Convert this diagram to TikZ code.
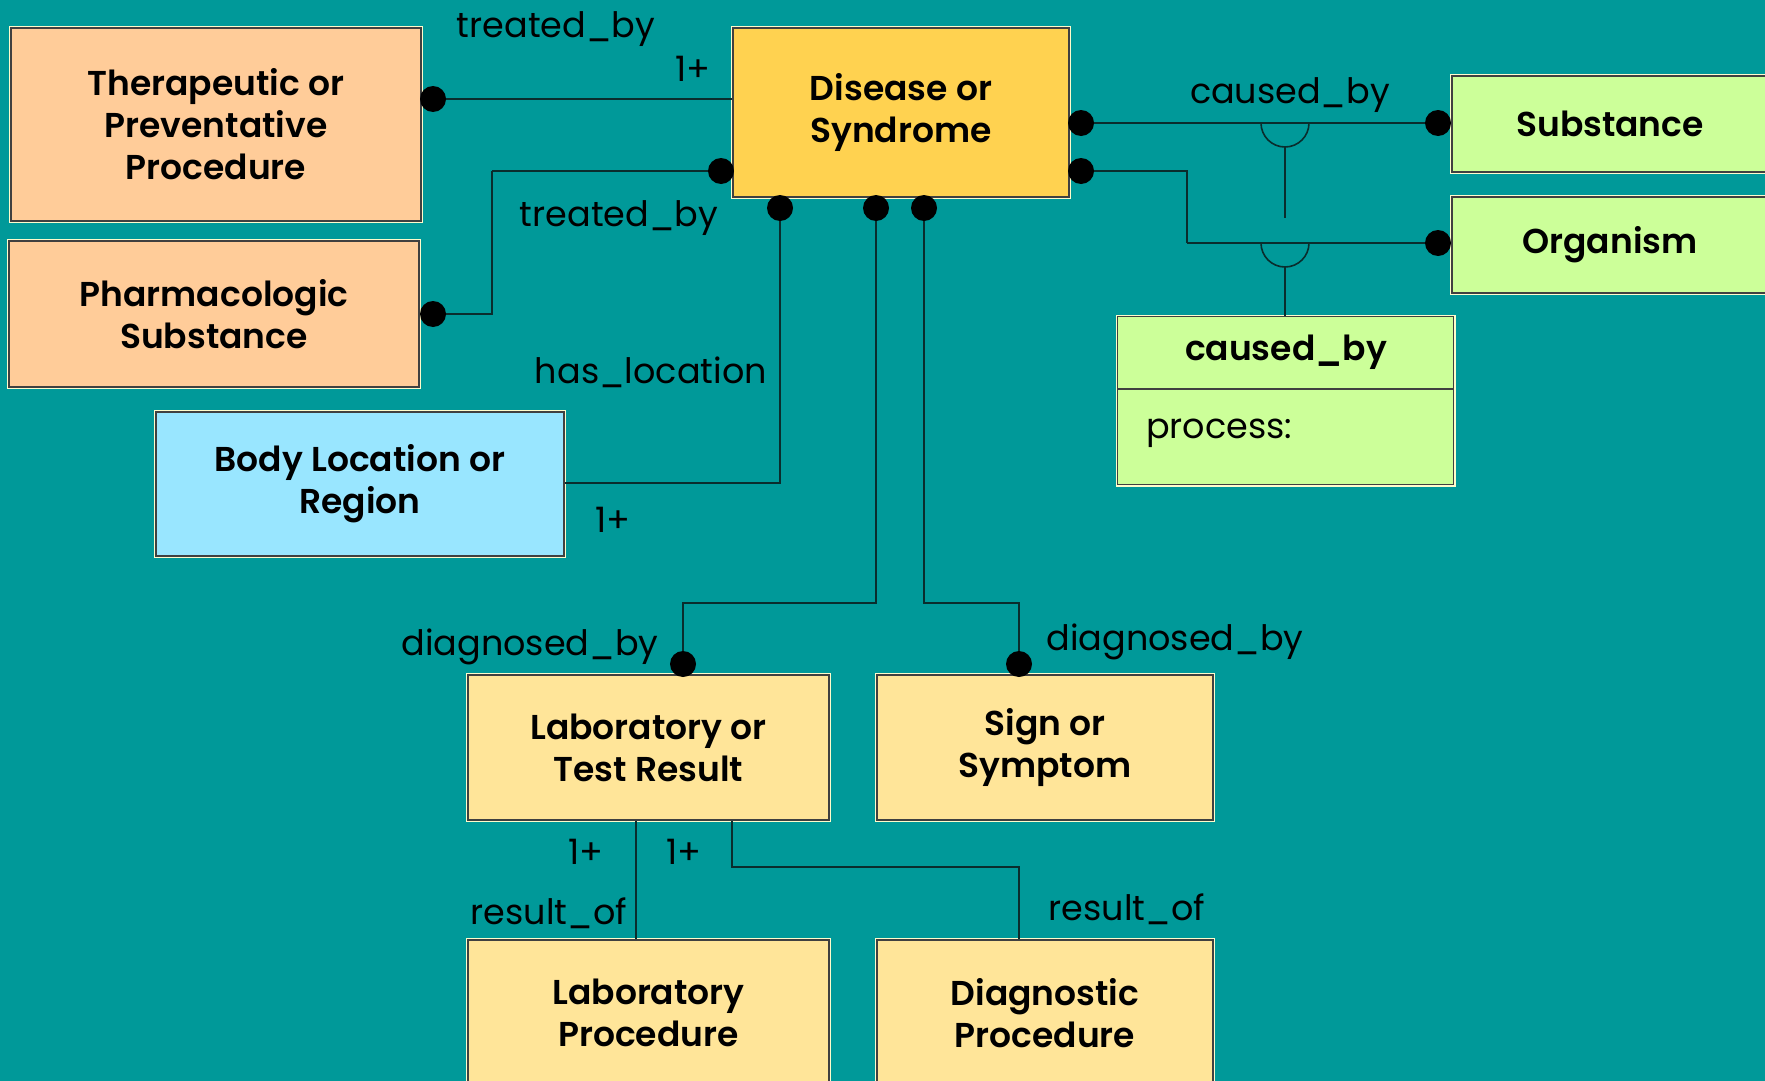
\documentclass[tikz,border=0pt]{standalone}
\usepackage{fontspec}
\setmainfont{Poppins}[BoldFont={Poppins SemiBold}]
\definecolor{bg}{RGB}{0,153,153}
\definecolor{peach}{RGB}{255,204,153}
\definecolor{gold}{RGB}{255,210,80}
\definecolor{sky}{RGB}{153,230,255}
\definecolor{lime}{RGB}{204,255,153}
\definecolor{cream}{RGB}{255,229,153}
\definecolor{wire}{RGB}{10,45,45}
\begin{document}
\begin{tikzpicture}[x=1pt,y=-1pt,
  box/.style={draw=black!75, line width=1.3pt, inner sep=0pt, align=center,
    font=\bfseries\fontsize{34.5}{42}\selectfont,
    preaction={draw=white!80!yellow, line width=3.8pt}},
  lbl/.style={inner sep=0pt, font=\fontsize{35}{40}\selectfont},
  wirestyle/.style={draw=wire, line width=1.6pt},
  thick wire/.style={draw=wire, line width=2.6pt},
  dot/.style={circle, fill=black, inner sep=0pt, minimum size=26pt}]
% canvas
\fill[bg] (0,0) rectangle (1765,1081);
\useasboundingbox (0,0) rectangle (1765,1081);
\begin{scope}
\clip (0,0) rectangle (1765,1081);
% classes
\node[box, fill=peach, minimum width=410pt, minimum height=193pt] (ther) at (216,124.5) {Therapeutic or\\Preventative\\Procedure};
\node[box, fill=peach, minimum width=410pt, minimum height=146pt] (pharm) at (214,314) {Pharmacologic\\Substance};
\node[box, fill=sky, minimum width=408pt, minimum height=144pt] (body) at (360,484) {Body Location or\\Region};
\node[box, fill=gold, minimum width=336pt, minimum height=169pt] (dis) at (901,112.5) {Disease or\\Syndrome};
\node[box, fill=lime, minimum width=316pt, minimum height=96pt] (subst) at (1610,124) {Substance};
\node[box, fill=lime, minimum width=316pt, minimum height=96pt] (organ) at (1610,245) {Organism};
\node[box, fill=lime, minimum width=336pt, minimum height=168pt, anchor=north west] (cbox) at (1117,316) {};
\node[font=\bfseries\fontsize{34.5}{40}\selectfont, inner sep=0pt] (chead) at (1286,352.5) {caused\_by};
\node[lbl, anchor=west] (cproc) at (1146,433) {process:};
\draw[black!75, line width=1.3pt] (cbox.west |- 0,389) coordinate (cdl) -- (cbox.east |- 0,389) coordinate (cdr);
\node[box, fill=cream, minimum width=361pt, minimum height=145pt] (labres) at (648.5,747.5) {Laboratory or\\Test Result};
\node[box, fill=cream, minimum width=336pt, minimum height=145pt] (sign) at (1045,747.5) {Sign or\\Symptom};
\node[box, fill=cream, minimum width=361pt, minimum height=146pt] (labproc) at (648.5,1013) {Laboratory\\Procedure};
\node[box, fill=cream, minimum width=336pt, minimum height=146pt] (diagproc) at (1045,1013) {Diagnostic\\Procedure};
\end{scope}
% association end points
\coordinate (p1) at (433,99);
\coordinate (p2) at (721,171);
\coordinate (p3) at (433,314);
\coordinate (p4) at (780,208);
\coordinate (p5) at (876,208);
\coordinate (p6) at (924,208);
\coordinate (p7) at (683,664);
\coordinate (p8) at (1019,664);
\coordinate (p9) at (1081,123);
\coordinate (p10) at (1438,123);
\coordinate (p11) at (1081,171);
\coordinate (p12) at (1438,243);
\coordinate (k1) at (492,171);
\coordinate (k2) at (1187,243);
\coordinate (h1) at (1285,123);
\coordinate (h2) at (1285,243);
% treated_by
\draw[wirestyle] (p1) -- (p1 -| dis.west);
\draw[thick wire] (p2) -- (k1);
\draw[wirestyle] (k1) |- (p3);
% has_location
\draw[wirestyle] (p4) |- (body.east |- 0,483);
% diagnosed_by
\draw[wirestyle] (p5) -- (876,603) -| (p7);
\draw[wirestyle] (p6) -- (924,603) -| (p8);
% caused_by
\draw[wirestyle] (p9) -- (p10);
\draw[wirestyle] (p11) -| (k2);
\draw[thick wire] (k2) -- (p12);
% association class link
\draw[wirestyle] ([xshift=-24pt]h1) arc[start angle=180, end angle=360, radius=24pt] ;
\draw[wirestyle] ([xshift=-24pt]h2) arc[start angle=180, end angle=360, radius=24pt] ;
\draw[wirestyle] ([yshift=-24pt]h1) -- (1285,218);
\draw[wirestyle] ([yshift=-24pt]h2) -- (cbox.north -| h2);
% result_of
\draw[wirestyle] (labres.south -| 636,0) -- (labproc.north -| 636,0);
\draw[wirestyle] (labres.south -| 732,0) |- (1019,867) -- (labproc.north -| 1019,0);
% end markers
\foreach \p in {p1,p2,p3,p4,p5,p6,p7,p8,p9,p10,p11,p12}
  \node[dot] at (\p) {};
% role labels
\node[lbl] (t1) at (556,29) {treated\_by};
\node[lbl] (m1) at (693,69) {1+};
\node[lbl] (t2) at (619,218) {treated\_by};
\node[lbl] (t3) at (651,372) {has\_location};
\node[lbl] (m2) at (613,520) {1+};
\node[lbl] (t4) at (1290,95) {caused\_by};
\node[lbl] (t5) at (530,647) {diagnosed\_by};
\node[lbl] (t6) at (1175,642) {diagnosed\_by};
\node[lbl] (m3) at (586,852) {1+};
\node[lbl] (m4) at (684,852) {1+};
\node[lbl] (t7) at (549,913) {result\_of};
\node[lbl] (t8) at (1127,909) {result\_of};
\end{tikzpicture}
\end{document}
